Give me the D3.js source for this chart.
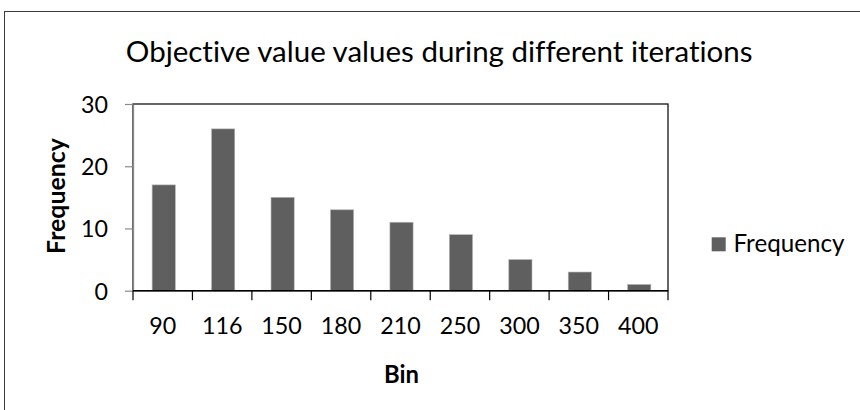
<!DOCTYPE html>
<html>
<head>
<meta charset="utf-8">
<script src="https://cdn.jsdelivr.net/npm/d3@7"></script>
<style>
  html, body { margin: 0; padding: 0; background: #fff; }
  svg { display: block; }
  text { font-family: Lato, "Open Sans", sans-serif; fill: #000; font-variant-ligatures: none; font-feature-settings: "liga" 0; }
</style>
</head>
<body>
<svg id="chart" width="860" height="410"></svg>
<script>
// ---- data ----
const categories = ["90", "116", "150", "180", "210", "250", "300", "350", "400"];
const frequency = [17, 26, 15, 13, 11, 9, 5, 3, 1];
const yTicks = [0, 10, 20, 30];
const titleText = "Objective value values during different iterations";
const xTitle = "Bin";
const yTitle = "Frequency";
const seriesName = "Frequency";

// ---- layout ----
const svg = d3.select("#chart");
const W = 860, H = 410;
const plot = { left: 133, right: 668, top: 104, bottom: 290.7 };
const barColor = "#5f5f5f";

// helper: fit a text element's font size to a target advance width
function fit(sel, target) {
  const node = sel.node();
  const fs = parseFloat(sel.attr("font-size"));
  const w = node.getComputedTextLength();
  const nfs = fs * target / w;
  sel.attr("font-size", nfs);
  return nfs;
}

// outer chart border (extends beyond the visible frame)
svg.append("rect")
  .attr("x", 4.5).attr("y", 11.5)
  .attr("width", W + 20).attr("height", H + 20)
  .attr("fill", "#fff").attr("stroke", "#3a3a3a").attr("stroke-width", 1);

// title
const title = svg.append("text")
  .attr("x", 439.2).attr("y", 62.3)
  .attr("text-anchor", "middle")
  .attr("font-size", 28)
  .text(titleText);
fit(title, 627);

// scales
const x = d3.scaleBand()
  .domain(categories)
  .range([plot.left, plot.right])
  .paddingInner(0.6)
  .paddingOuter(0.3);
const y = d3.scaleLinear()
  .domain([0, 30])
  .range([plot.bottom, plot.top]);

const step = x.step();
const boundary = c => x(c) - step * x.paddingInner() / 2;

// plot area border (top and right visible)
svg.append("rect")
  .attr("x", plot.left).attr("y", plot.top)
  .attr("width", plot.right - plot.left).attr("height", plot.bottom - plot.top)
  .attr("fill", "none").attr("stroke", "#000").attr("stroke-width", 1.2);

// bars
svg.append("g").selectAll("rect")
  .data(frequency)
  .join("rect")
  .attr("x", (d, i) => x(categories[i]) + 1.3)
  .attr("y", d => y(d))
  .attr("width", x.bandwidth() - 0.6)
  .attr("height", d => y(0) - y(d))
  .attr("fill", barColor)
  .attr("stroke", "#b4b4b4")
  .attr("stroke-width", 0.6);

// y axis
const yAxis = svg.append("g")
  .attr("transform", `translate(${plot.left},0)`)
  .call(d3.axisLeft(y).tickValues(yTicks).tickSize(8).tickSizeOuter(0).tickPadding(17));
yAxis.select(".domain").attr("stroke", "#8a8a8a").attr("stroke-width", 1.3);
yAxis.selectAll(".tick line").attr("stroke", "#8a8a8a").attr("stroke-width", 1.2);
yAxis.selectAll(".tick text")
  .attr("font-family", "Lato, 'Open Sans', sans-serif")
  .attr("font-size", 24)
  .attr("fill", "#000")
  .attr("dy", "0.36em");
const ys = fit(yAxis.select(".tick:last-of-type text"), 27);
yAxis.selectAll(".tick text").attr("font-size", ys);

// x axis line and ticks at category boundaries
const bounds = categories.map(boundary).concat([plot.right]);
svg.append("line")
  .attr("x1", plot.left).attr("x2", plot.right)
  .attr("y1", plot.bottom).attr("y2", plot.bottom)
  .attr("stroke", "#000").attr("stroke-width", 1.6);
svg.append("g").selectAll("line")
  .data(bounds)
  .join("line")
  .attr("x1", d => d).attr("x2", d => d)
  .attr("y1", plot.bottom).attr("y2", plot.bottom + 9.5)
  .attr("stroke", "#000").attr("stroke-width", 1.2);

// x tick labels
svg.append("g").selectAll("text")
  .data(categories)
  .join("text")
  .attr("x", d => x(d) + x.bandwidth() / 2)
  .attr("y", 334.3)
  .attr("text-anchor", "middle")
  .attr("font-size", ys)
  .text(d => d);

// x title
const xt = svg.append("text")
  .attr("x", (plot.left + plot.right) / 2 + 1)
  .attr("y", 382.7)
  .attr("text-anchor", "middle")
  .attr("font-weight", "bold")
  .attr("font-size", 22)
  .text(xTitle);
fit(xt, 35);

// y title
const yt = svg.append("text")
  .attr("transform", `translate(65,196) rotate(-90)`)
  .attr("text-anchor", "middle")
  .attr("font-weight", "bold")
  .attr("font-size", 22)
  .text(yTitle);
fit(yt, 116);

// legend
const lg = svg.append("g");
lg.append("rect")
  .attr("x", 711.7).attr("y", 237.3)
  .attr("width", 14).attr("height", 14)
  .attr("fill", barColor);
const lt = lg.append("text")
  .attr("x", 733.5).attr("y", 251.7)
  .attr("font-size", 24)
  .text(seriesName);
fit(lt, 111);
</script>
</body>
</html>
